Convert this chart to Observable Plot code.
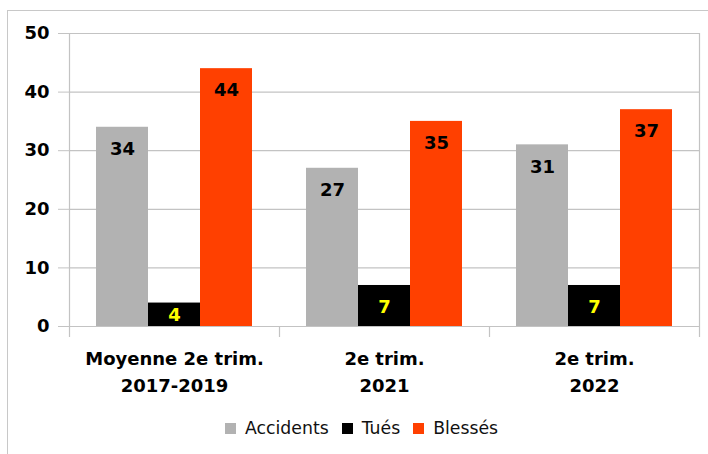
<!DOCTYPE html>
<html><head><meta charset="utf-8">
<script src="https://cdn.jsdelivr.net/npm/d3@7"></script>
<script src="https://cdn.jsdelivr.net/npm/@observablehq/plot@0.6"></script>
<style>
body{margin:0;background:#fff;font-family:"DejaVu Sans",sans-serif;}
#wrap{position:relative;width:708px;height:454px;overflow:hidden;background:#fff;}
#border{position:absolute;left:7px;top:10px;width:760px;height:500px;border:1px solid #c8c8c8;box-sizing:border-box;}
#chart{position:absolute;left:0;top:0;}
#legend{position:absolute;left:225px;top:418px;display:flex;align-items:center;font-size:17.3px;color:#111;white-space:nowrap;}
.item{display:flex;align-items:center;margin-right:13px;}
.sw{width:11px;height:11px;margin-right:9px;flex:none;}
[aria-label^="y-axis"] text{fill:#000;font-size:18px;font-weight:bold;}
</style></head>
<body><div id="wrap"><div id="border"></div><div id="chart"></div><div id="legend"></div></div>
<script>
const categories = ["Moyenne 2e trim.\n2017-2019", "2e trim.\n2021", "2e trim.\n2022"];
const series = ["Accidents", "Tués", "Blessés"];
const accidents = [34, 27, 31];
const tues = [4, 7, 7];
const blesses = [44, 35, 37];
const yTicks = [0, 10, 20, 30, 40, 50];

const seriesColors = ["#b2b2b2", "#000000", "#ff4000"];
const gridColor = "#c3c3c3";

const valuesBySeries = {"Accidents": accidents, "Tués": tues, "Blessés": blesses};
const rows = [];
categories.forEach((c, i) => series.forEach(s => rows.push({category: c, series: s, value: valuesBySeries[s][i]})));

const labelMarks = [];
for (const [test, fill] of [[d => d.series !== "Tués", "#000"], [d => d.series === "Tués", "#ffff00"]]) {
  labelMarks.push(Plot.text(rows.filter(d => test(d) && d.value >= 5),
    {fx: "category", x: "series", y: "value", text: "value", dy: 22, fill, fontSize: 18, fontWeight: "bold"}));
  labelMarks.push(Plot.text(rows.filter(d => test(d) && d.value < 5),
    {fx: "category", x: "series", y: d => d.value / 2, text: "value", fill, fontSize: 18, fontWeight: "bold"}));
}

const chart = Plot.plot({
  width: 708, height: 410,
  marginTop: 33, marginBottom: 84, marginLeft: 68, marginRight: 8,
  style: {fontFamily: '"DejaVu Sans", sans-serif', fontSize: "18px", fontWeight: "bold", color: gridColor, background: "transparent", overflow: "visible"},
  fx: {domain: categories, padding: 0, axis: null},
  x: {domain: series, paddingInner: 0, paddingOuter: 0.5, axis: null},
  y: {domain: [0, 50], ticks: yTicks, tickSize: 11, tickPadding: 9, tickFormat: d => String(d), label: null},
  color: {domain: series, range: seriesColors},
  marks: [
    Plot.ruleY(yTicks, {stroke: gridColor, strokeWidth: 1.2}),
    Plot.barY(rows, {fx: "category", x: "series", y: "value", fill: "series"}),
    ...labelMarks,
    Plot.text(categories, {fx: d => d, text: d => d, frameAnchor: "bottom", dy: 65, lineHeight: 1.5, fill: "#000", fontSize: 18, fontWeight: "bold"})
  ]
});
document.getElementById("chart").appendChild(chart);

// group separators and frame sides, derived from the chart's own scales
(function () {
  const svg = d3.select(chart);
  const yd = chart.scale("y");
  const y = d3.scaleLinear(yd.domain, yd.range);
  let edges;
  const fxd = chart.scale ? chart.scale("fx") : null;
  if (fxd && fxd.range) {
    const fx = d3.scaleBand(fxd.domain, fxd.range)
      .paddingInner(fxd.paddingInner ?? 0).paddingOuter(fxd.paddingOuter ?? 0)
      .align(fxd.align ?? 0.5).round(!!fxd.round);
    edges = [...fxd.domain.map(d => fx(d)), fx(fxd.domain[fxd.domain.length - 1]) + fx.bandwidth()];
  } else {
    const step = (708 - 68 - 8) / categories.length;
    edges = d3.range(categories.length + 1).map(i => 68 + i * step);
  }
  const y0 = y(0), yTop = y(d3.max(yTicks));
  edges.forEach((e, i) => {
    const outer = i === 0 || i === edges.length - 1;
    svg.append("line")
      .attr("x1", Math.round(e) + 0.5).attr("x2", Math.round(e) + 0.5)
      .attr("y1", outer ? yTop : y0).attr("y2", y0 + 11)
      .attr("stroke", gridColor).attr("stroke-width", 1.2);
  });
})();

const legend = document.getElementById("legend");
series.forEach((s, i) => {
  const item = document.createElement("div");
  item.className = "item";
  const sw = document.createElement("div");
  sw.className = "sw";
  sw.style.background = seriesColors[i];
  const t = document.createElement("span");
  t.textContent = s;
  item.appendChild(sw); item.appendChild(t);
  legend.appendChild(item);
});
</script>
</body></html>
